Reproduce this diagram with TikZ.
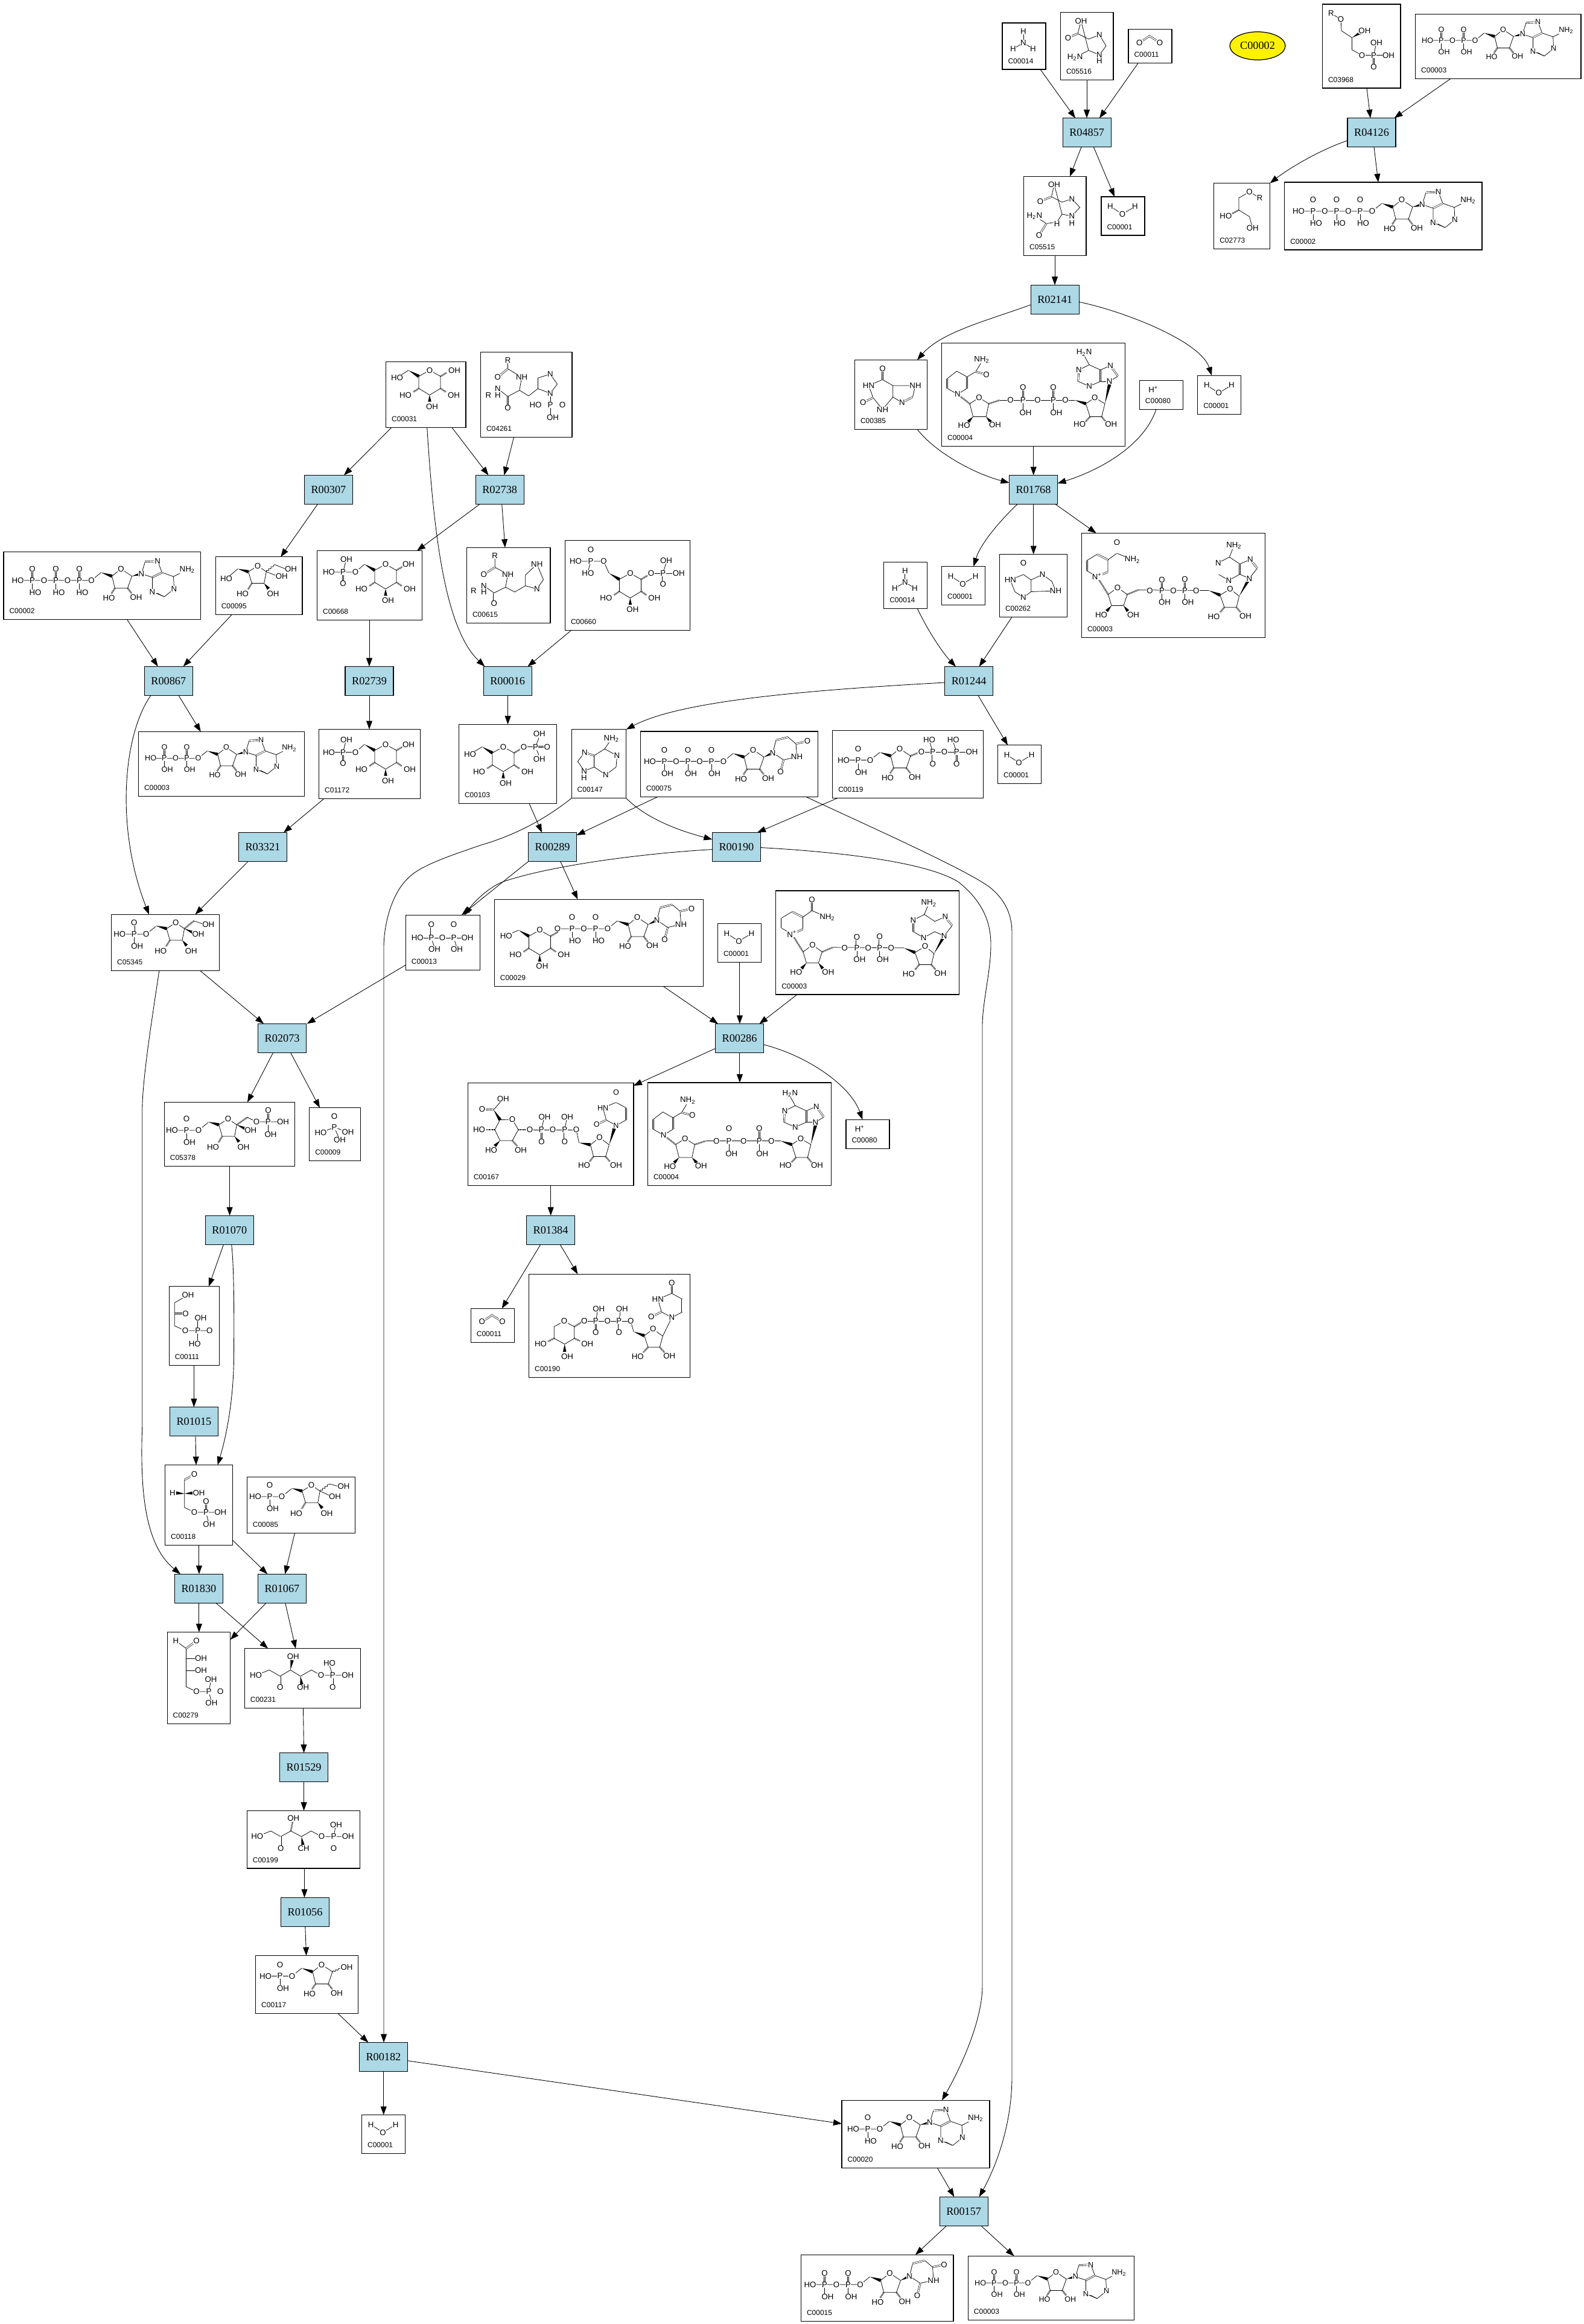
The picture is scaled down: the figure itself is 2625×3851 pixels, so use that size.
\documentclass[tikz,border=0pt]{standalone}
\usepackage{fontspec}
\setmainfont{Liberation Serif}
\setsansfont{Liberation Sans}
\usetikzlibrary{arrows.meta,calc,decorations.pathmorphing,shapes.geometric}
\definecolor{rxnblue}{HTML}{ADD8E6}

% compound box: name, x1, y1, x2, y2, id
\newcommand{\cpd}[6]{\node[cpd,minimum width={(#4-#2)*0.4pt},minimum height={(#5-#3)*0.4pt}] (#1) at ({(#2+#4)/2},{(#3+#5)/2}) {};
\node[cpdid] (#1id) at (#2+9,#5-14) {#6};}
\newcommand{\atoms}[1]{\foreach \px/\py/\tx in {#1}{\node[atm] (atm-\px-\py) at (\px,\py) {\tx};}}
\newcommand{\wdg}[4]{\fill (#1,#2) -- ($(#3,#4)!1.1pt!90:(#1,#2)$) -- ($(#3,#4)!1.1pt!-90:(#1,#2)$) -- cycle;}
\newcommand{\hsh}[4]{\draw[hash] (#1,#2) -- (#3,#4);}

% sugar rings, ring O at the origin
\newcommand{\ribring}{\draw[bond] (0,0)--(18,12)--(11,32)--(-10,32)--(-15,12)--cycle;
\wdg{-33}{6}{-15}{12} \hsh{-10}{32}{-16}{41} \hsh{11}{32}{18}{41}
\atoms{0/0/O,-20/48/HO,25/47/OH}}
\newcommand{\frring}{\draw[bond] (0,0)--(14.3,9.8)--(10.7,29)--(-9.7,29)--(-15.3,9.8)--cycle;
\wdg{-33}{5}{-15.3}{9.8} \hsh{-9.7}{29}{-16}{39} \wdg{10.7}{29}{18}{38}
\atoms{0/0/O,-25/46.5/HO,25.5/46.5/OH}}
\newcommand{\pyr}{\draw[bond] (0,0)--(18,10)--(18,30)--(0,41)--(-18,30)--(-18,10)--cycle;
\hsh{18}{30}{27}{36} \wdg{0}{41}{0}{52} \hsh{-18}{30}{-27}{36} \wdg{-35}{0}{-18}{10}
\atoms{0/0/O,-40/41/HO,40/41/OH,4/60/OH}}
% phosphate chain on the left of a ribose: count, lower text, end text
\newcommand{\chain}[3]{\pgfmathsetmacro\pend{-69-39*(#1-1)}
\draw[bond] (-33,6)--(-49,19)--(\pend-24,19);
\atoms{-49/19/O}
\foreach \i in {1,...,#1}{\pgfmathsetmacro\pp{-69-39*(\i-1)}
\draw[dbl] (\pp,19)--(\pp,0);
\draw[bond] (\pp,19)--(\pp,34);
\node[atm] (atm-p\i) at (\pp,19) {P};
\node[atm] (atm-o\i) at (\pp,0) {O};
\node[atm] (atm-h\i) at (\pp+5,39) {#2};}
\foreach \i in {2,...,#1}{\ifnum\i>1 \pgfmathsetmacro\pp{-69-39*(\i-1)+19.5}
\node[atm] (atm-b\i) at (\pp,19) {O};\fi}
\node[atm] (atm-e) at (\pend-24,19) {#3};}
\newcommand{\adenosine}{\ribring \wdg{18}{12}{34}{8}
\draw[bond] (34,8)--(40,-12); \draw[dbl] (40,-12)--(60.7,-13);
\draw[bond] (60.7,-13)--(68,6)--(52,14)--(34,8);
\draw[bond] (68,6)--(87,12.7)--(88,33); \draw[dbl] (68,6)--(52,14);
\draw[bond] (88,33)--(72,46)--(52,38)--(52,14); \draw[bond] (87,12.7)--(110,1);
\draw[bond] (71,46)--(60,40);
\atoms{34/8/N,60.7/-13/N,88/33/N,52/38/N,110/1/NH\textsubscript{2}}}
\newcommand{\uridine}{\ribring \wdg{18}{12}{32.7}{5}
\draw[bond] (32.7,5)--(50.6,16.7)--(72.5,11.7)--(71,-10)--(58,-21); \draw[bond] (38,-16)--(32.7,5);
\draw[dbl] (58,-21)--(38,-16); \draw[dbl] (50.6,16.7)--(45.4,36.7); \draw[dbl] (71,-10)--(90,-14.3);
\atoms{32.7/5/N,45.4/36.7/O,72.5/11.7/NH,90/-14.3/O}}
% uracil with N1 at the origin, N1 pointing down
\newcommand{\uraup}{\draw[bond] (0,0)--(-17,-9.3)--(-23,-30.6)--(0,-40)--(17.4,-30.6);
\draw[dbl] (17.4,-30.6)--(17.4,-9.3); \draw[bond] (17.4,-9.3)--(0,0);
\draw[dbl] (-17,-9.3)--(-34,-1.6); \draw[dbl] (0,-40)--(0,-57.3);
\atoms{0/0/N,-34/-1.6/O,-23/-30.6/HN,0/-57.3/O}}
\newcommand{\nadox}{\draw[bond] (0,0)--(16,11.5)--(10,30)--(-10,30)--(-15.5,11.5)--cycle;
\hsh{-15.5}{11.5}{-34}{-18} \wdg{-10}{30}{-18}{39} \wdg{10}{30}{17}{39}
\draw[bond] (-34,-18)--(-16,-26)--(-16,-46)--(-34,-55)--(-50.5,-45)--(-50.5,-27.5)--cycle;
\draw[dbl] (-16,-46)--(-34,-55); \draw[dbl] (-50.5,-45)--(-50.5,-27.5); \draw[dbl] (-34,-18)--(-16,-26);
\draw[bond] (-16,-46)--(-1,-56.8)--(24.7,-46); \draw[dbl] (-1,-56.8)--(-1,-75);
\hsh{16}{11.5}{34}{4} \draw[bond] (34,4)--(151.5,5);
\draw[dbl] (73.5,5)--(73.5,-13); \draw[dbl] (111.4,5)--(111.4,-14);
\draw[bond] (73.5,5)--(73.5,20); \draw[bond] (111.4,5)--(111.4,20);
\wdg{151.5}{5}{170}{12.6}
\draw[bond] (186.6,2.3)--(201.5,14.4)--(197,32.7)--(177,32.7)--(170,12.6)--cycle;
\hsh{177}{32.7}{170}{41} \hsh{197}{32.7}{204}{41} \wdg{201.5}{14.4}{218.3}{-15}
\draw[bond] (218.3,-15)--(231.5,-32); \draw[dbl] (231.5,-32)--(220,-46.5);
\draw[bond] (220,-46.5)--(202.6,-39); \draw[dbl] (202.6,-39)--(202.6,-22); \draw[bond] (202.6,-22)--(218.3,-15);
\draw[bond] (202.6,-22)--(184.3,-12)--(167,-22); \draw[dbl] (167,-22)--(167,-41);
\draw[bond] (167,-41)--(185.4,-50.5)--(202.6,-39); \draw[bond] (185.4,-50.5)--(193,-69.5);
\atoms{0/0/O,-27/45/HO,26/45/OH,-34/-18/N\textsuperscript{+},-1/-75/O,24.7/-46/NH\textsubscript{2},
53.4/5/O,73.5/5/P,73.5/-13/O,78/24/OH,92.4/5/O,111.4/5/P,111.4/-14/O,116.5/24/OH,130.3/5/O,
186.6/2.3/O,159.5/48/HO,212/47/OH,218.3/-15/N,220/-46.5/N,184.3/-12/N,167/-41/N,193/-69.5/NH\textsubscript{2}}}
\newcommand{\nadred}{\draw[bond] (0,0)--(16,10)--(11.5,31.5)--(-10,31.5)--(-15.5,10)--cycle;
\hsh{-15.5}{10}{-35.6}{-5.7} \wdg{-10}{31.5}{-18}{40} \wdg{11.5}{31.5}{19}{40}
\draw[bond] (-35.6,-5.7)--(-20,-15.5)--(-20,-34.5)--(-37,-44)--(-53,-31.5)--(-53,-15.5)--cycle;
\draw[dbl] (-20,-15.5)--(-20,-34.5); \draw[dbl] (-53,-31.5)--(-53,-15.5);
\draw[bond] (-20,-34.5)--(-5.7,-43)--(4.6,-60); \draw[dbl] (-5.7,-43)--(12,-38.5);
\hsh{16}{10}{34.4}{4} \draw[bond] (34.4,4)--(158.5,4);
\draw[dbl] (72.7,4)--(72.7,-17); \draw[dbl] (123,4)--(123,-17);
\draw[bond] (72.7,4)--(72.7,20); \draw[bond] (123,4)--(123,20);
\wdg{158.5}{4}{176.8}{10}
\draw[bond] (191.7,0)--(208.4,10)--(203,31.5)--(183.7,31.5)--(176.8,10)--cycle;
\hsh{183.7}{31.5}{176}{40} \hsh{203}{31.5}{210}{40} \wdg{208.4}{10}{216}{-22}
\draw[bond] (216,-27)--(230,-35.6); \draw[dbl] (230,-35.6)--(217.5,-53);
\draw[bond] (217.5,-53)--(201,-46); \draw[dbl] (201,-46)--(201,-27); \draw[bond] (201,-27)--(216,-27);
\draw[bond] (201,-27)--(182.5,-19)--(164,-27); \draw[dbl] (164,-27)--(165.3,-46);
\draw[bond] (165.3,-46)--(182.5,-54.5)--(201,-46); \draw[bond] (182.5,-54.5)--(174,-70);
\atoms{0/0/O,-25/46/HO,26.4/45/OH,-35.6/-5.7/N,12/-38.5/O,4.6/-63/NH\textsubscript{2},
52/4/O,72.7/4/P,72.7/-17/O,77/25/OH,97/4/O,123/4/P,123/-17/O,128/25/OH,143/4/O,
191.7/0/O,166.5/44/HO,218.7/44/OH,216/-27/N,217.5/-53/N,182.5/-19/N,165.3/-46/N,174/-74.6/H\textsubscript{2}N}}
% small ones, from the top left corner of their box
\newcommand{\water}[3]{\cpd{#1}{#2}{#3}{#2+72}{#3+64}{C00001}
\begin{scope}[shift={(#2,#3)}]\draw[bond] (15,16)--(35,29)--(56,16); \atoms{15/16/H,35/29/O,56/16/H}\end{scope}}
\newcommand{\ammonia}[3]{\cpd{#1}{#2}{#3}{#2+72}{#3+77}{C00014}
\begin{scope}[shift={(#2,#3)}]\draw[bond] (35,14)--(35,33); \draw[bond] (18,43)--(35,33)--(51,43); \atoms{35/14/H,35/33/N,18/43/H,51/43/H}\end{scope}}
\newcommand{\carbdiox}[3]{\cpd{#1}{#2}{#3}{#2+72}{#3+56}{C00011}
\begin{scope}[shift={(#2,#3)}]\draw[dbl] (18.3,22)--(35,11)--(52,22); \atoms{18.3/22/O,52/22/O}\end{scope}}
\newcommand{\proton}[3]{\cpd{#1}{#2}{#3}{#2+72}{#3+48}{C00080}
\begin{scope}[shift={(#2,#3)}]\atoms{23/15/H\textsuperscript{+}}\end{scope}}

\begin{document}
\begin{tikzpicture}[x=0.4pt,y=-0.4pt,>={Triangle[length=5.6pt,width=4pt]}]
\tikzstyle{cpd}=[draw,fill=white,rectangle,inner sep=0pt,outer sep=0pt,line width=0.5pt]
\tikzstyle{cpdid}=[anchor=west,inner sep=0pt,font=\sffamily\fontsize{4.8}{5.5}\selectfont]
\tikzstyle{rxn}=[draw,fill=rxnblue,rectangle,inner sep=0pt,outer sep=0pt,line width=0.5pt,minimum width=32pt,minimum height=19.2pt,font=\rmfamily\fontsize{7.3}{8}\selectfont]
\tikzstyle{atm}=[fill=white,inner sep=0.15pt,font=\sffamily\fontsize{5.3}{6}\selectfont]
\tikzstyle{bond}=[line width=0.3pt]
\tikzstyle{dbl}=[line width=0.25pt,double,double distance=0.65pt]
\tikzstyle{hash}=[line width=1.1pt,dash pattern=on 0.25pt off 0.4pt]
\tikzstyle{wavy}=[line width=0.3pt,decorate,decoration={snake,amplitude=0.5pt,segment length=2pt}]
\tikzstyle{flow}=[->,line width=0.35pt]
\useasboundingbox (0,0) rectangle (2625,3851);

% reactions
\node[rxn] (R04857) at (1801.2,219.7) {R04857};
\node[rxn] (R04126) at (2273,219.7) {R04126};
\node[rxn] (R02141) at (1748.2,496.4) {R02141};
\node[rxn] (R01768) at (1712.5,811.5) {R01768};
\node[rxn] (R01244) at (1605.7,1128.6) {R01244};
\node[rxn] (R00307) at (544.4,811.5) {R00307};
\node[rxn] (R02738) at (828.2,811.5) {R02738};
\node[rxn] (R00867) at (279.3,1128.4) {R00867};
\node[rxn] (R02739) at (612,1128.4) {R02739};
\node[rxn] (R00016) at (841.2,1128.4) {R00016};
\node[rxn] (R00289) at (915.6,1403.5) {R00289};
\node[rxn] (R00190) at (1220.4,1403.5) {R00190};
\node[rxn] (R03321) at (435.4,1403.6) {R03321};
\node[rxn] (R02073) at (467.6,1720.4) {R02073};
\node[rxn] (R00286) at (1225.5,1720.5) {R00286};
\node[rxn] (R01070) at (380.3,2038.3) {R01070};
\node[rxn] (R01384) at (912.5,2038.3) {R01384};
\node[rxn] (R01015) at (321.4,2355.6) {R01015};
\node[rxn] (R01830) at (329.4,2632.3) {R01830};
\node[rxn] (R01067) at (467.4,2632.3) {R01067};
\node[rxn] (R01529) at (503.6,2928.6) {R01529};
\node[rxn] (R01056) at (505.5,3168.5) {R01056};
\node[rxn] (R00182) at (635.4,3408.5) {R00182};
\node[rxn] (R00157) at (1597.2,3664.3) {R00157};

% the lone one
\node[draw,ellipse,fill=yellow,line width=0.5pt,inner sep=0pt,minimum width=36.8pt,minimum height=18.6pt,font=\rmfamily\fontsize{7.3}{8}\selectfont] (C00002top) at (2084,76) {C00002};

% small compounds
\water{c00001a}{1825}{326}
\water{c00001b}{1984.8}{622.3}
\water{c00001c}{1560.6}{938.6}
\water{c00001d}{1653.6}{1234.8}
\water{c00001e}{1189.5}{1530.7}
\water{c00001f}{599.6}{3504.5}
\ammonia{c00014a}{1661}{38}
\ammonia{c00014b}{1464.8}{931.7}
\carbdiox{c00011a}{1870}{48.7}
\carbdiox{c00011b}{780.4}{2168.3}
\proton{c00080a}{1888.4}{630.4}
\proton{c00080b}{1402}{1855.4}

% nucleotides
\cpd{c00002b}{2128.8}{302}{2456}{414}{C00002}
\begin{scope}[shift={(2323,331)}]\adenosine \chain{3}{HO}{HO}\end{scope}
\cpd{c00002c}{6}{914.6}{332.8}{1026.3}{C00002}
\begin{scope}[shift={(200.5,942.7)}]\adenosine \chain{3}{HO}{HO}\end{scope}
\cpd{c00003a}{2345.7}{23.7}{2620}{130.4}{C00003}
\begin{scope}[shift={(2491,49)},scale=0.95,transform shape]\adenosine \chain{2}{OH}{HO}\end{scope}
\cpd{c00003c}{229.5}{1212.6}{504.2}{1319.7}{C00003}
\begin{scope}[shift={(375,1238.6)},scale=0.95,transform shape]\adenosine \chain{2}{OH}{HO}\end{scope}
\cpd{c00003e}{1604.4}{3738.3}{1879.3}{3844.3}{C00003}
\begin{scope}[shift={(1750,3765)},scale=0.95,transform shape]\adenosine \chain{2}{OH}{HO}\end{scope}
\cpd{c00020}{1395}{3480.3}{1640}{3592.3}{C00020}
\begin{scope}[shift={(1507,3509)}]\adenosine \chain{1}{HO}{HO}\end{scope}
\cpd{c00015}{1327.5}{3736.3}{1580}{3846.3}{C00015}
\begin{scope}[shift={(1474.5,3766.7)}]\uridine \chain{2}{OH}{HO}\end{scope}
\cpd{c00075}{1061.4}{1211.9}{1355.4}{1320.3}{C00075}
\begin{scope}[shift={(1248,1242.5)}]\uridine \chain{3}{OH}{HO}\end{scope}
\cpd{c00004a}{1560.6}{568.4}{1864.3}{739.4}{C00004}
\begin{scope}[shift={(1622.6,659)}]\nadred\end{scope}
\cpd{c00004b}{1073.5}{1794}{1377.7}{1964.4}{C00004}
\begin{scope}[shift={(1135.3,1886.6)}]\nadred\end{scope}
\cpd{c00003b}{1792.5}{883.5}{2096.8}{1056.3}{C00003}
\begin{scope}[shift={(1852,973.6)}]\nadox\end{scope}
\cpd{c00003d}{1285.8}{1475.9}{1589.4}{1648}{C00003}
\begin{scope}[shift={(1346.4,1565.8)}]\nadox\end{scope}
\cpd{c00119}{1379.8}{1210.7}{1629.5}{1322.5}{C00119}
\begin{scope}[shift={(1491,1240.6)}]\ribring \chain{1}{OH}{HO}
\hsh{18}{12}{30}{7} \draw[bond] (36,5.7)--(119.6,5.7);
\draw[bond] (54.7,5.7)--(50,-10); \draw[bond] (94.3,5.7)--(89,-10);
\draw[dbl] (54.7,5.7)--(54.7,25); \draw[dbl] (94.3,5.7)--(94.3,25);
\atoms{36/5.7/O,54.7/5.7/P,49/-15/HO,54.7/25/O,74/5.7/O,94.3/5.7/P,88.7/-15/HO,94.3/25/O,119.6/5.7/OH}\end{scope}

% sugars
\cpd{c00031}{639.6}{599.3}{772}{708.5}{C00031}
\begin{scope}[shift={(712,613.6)}]\pyr \draw[bond] (-35,0)--(-54,12); \hsh{18}{10}{28}{4} \atoms{-54/12/HO,41/0/OH}\end{scope}
\cpd{c00103}{760.5}{1200.3}{922.7}{1331.4}{C00103}
\begin{scope}[shift={(834,1237.6)}]\pyr \draw[bond] (-35,0)--(-55,12); \hsh{18}{10}{28}{4}
\draw[bond] (34,0)--(60,0); \draw[bond] (53.5,0)--(59,-15); \draw[bond] (53.5,0)--(59,14); \draw[dbl] (53.5,0)--(72.7,0);
\atoms{-55/12/HO,34/0/O,53.5/0/P,59.7/-22/OH,59.7/20/OH,72.7/0/O}\end{scope}
\cpd{c00668}{525.6}{912.6}{699.3}{1027.3}{C00668}
\cpd{c01172}{528.7}{1208.5}{696.3}{1323.3}{C01172}
\foreach \sx/\sy in {639/935,639/1233.5}{
\begin{scope}[shift={(\sx,\sy)}]\pyr \hsh{18}{10}{28}{4}
\draw[bond] (-35,0)--(-50,13)--(-94,13); \draw[bond] (-70.5,13)--(-66,-5); \draw[dbl] (-70.5,13)--(-70.5,31.6);
\atoms{-50/13/O,-70.5/13/P,-65/-8/OH,-70.5/31.6/O,-94/13/HO,38/0/OH}\end{scope}}
\cpd{c00660}{936.5}{895.7}{1143.8}{1044.7}{C00660}
\begin{scope}[shift={(1044.4,950)}]\pyr \hsh{18}{10}{30}{3}
\draw[bond] (-35,0)--(-44,-20)--(-90,-20); \draw[bond] (-65.4,-20)--(-70,-3); \draw[dbl] (-65.4,-20)--(-65.4,-39.5);
\draw[bond] (34.6,0)--(80,0); \draw[bond] (54.3,0)--(59.7,-18); \draw[dbl] (54.3,0)--(54.3,18);
\atoms{-44/-20/O,-65.4/-20/P,-65.4/-39.5/O,-90.4/-20/HO,-70/0/HO,34.6/0/O,54.3/0/P,59.7/-21/OH,80.3/0/OH,54.3/18/O}\end{scope}
\cpd{c00029}{819.4}{1490.3}{1165.3}{1634.7}{C00029}
\begin{scope}[shift={(1056,1520)}]\uridine \chain{2}{HO}{O}\end{scope}
\begin{scope}[shift={(894.4,1541.3)}]\pyr \draw[bond] (-35,0)--(-55.6,9.2); \hsh{18}{10}{30}{3} \atoms{-55.6/9.2/HO}\end{scope}
\cpd{c00167}{775.5}{1794.4}{1049.9}{1964.3}{C00167}
\draw[bond] (849,1855)--(859,1872)--(849,1890)--(828.6,1890)--(820,1872)--(828.6,1855.6)--cycle;
\wdg{818}{1838.8}{828.6}{1855.6} \hsh{820}{1872}{806}{1872} \wdg{828.6}{1890}{820}{1899} \hsh{849}{1890}{857}{1899} \hsh{859}{1872}{872}{1872}
\draw[dbl] (818,1838.8)--(799,1838); \draw[bond] (818,1838.8)--(833.7,1821);
\draw[bond] (878,1872)--(955,1872); \draw[bond] (897.4,1872)--(901,1855); \draw[bond] (935.7,1872)--(939,1855);
\draw[dbl] (897.4,1872)--(897.4,1892); \draw[dbl] (935.7,1872)--(935.7,1892);
\draw[bond] (955,1872)--(959.5,1893.5); \wdg{959.5}{1893.5}{978.5}{1897}
\draw[bond] (993.4,1885)--(1009.5,1897)--(1003.7,1916.5)--(983.6,1916.5)--(978.5,1897)--cycle;
\hsh{983.6}{1916.5}{977}{1925} \hsh{1003.7}{1916.5}{1011}{1925} \wdg{1009.5}{1897}{1018}{1870}
\atoms{849/1855/O,799/1838/O,833.7/1821/OH,794/1872/HO,814/1906/HO,863/1906/OH,878/1872/O,897.4/1872/P,902.5/1851/OH,897.4/1892/O,916/1872/O,935.7/1872/P,940/1851/OH,935.7/1892/O,955/1872/O,993.4/1885/O,968/1931/HO,1021/1931/OH}
\begin{scope}[shift={(1021,1864.8)},scale=0.95,transform shape]\uraup\end{scope}
\cpd{c00190}{876.7}{2111.3}{1143.3}{2282.3}{C00190}
\draw[bond] (935,2189.3)--(951.7,2198.3)--(951.7,2217.7)--(935.7,2227.3)--(918.3,2217.7)--(918.3,2198.3)--cycle;
\hsh{951.7}{2198.3}{964}{2191} \hsh{951.7}{2217.7}{961}{2222} \wdg{935.7}{2227.3}{935.7}{2240} \hsh{918.3}{2217.7}{908}{2223}
\draw[bond] (968.3,2189.3)--(1045.3,2189.3); \draw[bond] (987.3,2189.3)--(990,2174); \draw[bond] (1025.7,2189.3)--(1028,2174);
\draw[dbl] (987.3,2189.3)--(987.3,2208.3); \draw[dbl] (1025.7,2189.3)--(1025.7,2208.3);
\draw[bond] (1045.3,2189.3)--(1050,2206.7); \wdg{1050}{2206.7}{1067.7}{2213.3}
\draw[bond] (1082.3,2202.3)--(1098.3,2214)--(1093.3,2232.3)--(1074,2232.3)--(1067.7,2213.3)--cycle;
\hsh{1074}{2232.3}{1066}{2241} \hsh{1093.3}{2232.3}{1101}{2241} \draw[bond] (1098.3,2214)--(1113.3,2183.3);
\atoms{935/2189.3/O,896/2227.3/HO,973.3/2227.3/OH,940/2248.3/OH,968.3/2189.3/O,987.3/2189.3/P,992.3/2169/OH,987.3/2208.3/O,1006.7/2189.3/O,1025.7/2189.3/P,1030.7/2169/OH,1025.7/2208.3/O,1045.3/2189.3/O,1082.3/2202.3/O,1056.7/2248.3/HO,1109.3/2246.7/OH}
\begin{scope}[shift={(1113.3,2183.3)}]\uraup\end{scope}

% fructose and ribose phosphates
\cpd{c05345}{184.7}{1515.3}{363.3}{1608.7}{C05345}
\begin{scope}[shift={(291.3,1529)}]\frring \chain{1}{OH}{HO}
\hsh{14.3}{9.8}{30}{-3} \wdg{14.3}{9.8}{30}{17} \draw[bond] (30,-3)--(45,2) ; \atoms{54/2.6/OH,37.3/19/OH}\end{scope}
\cpd{c05378}{272.4}{1826.5}{488.3}{1932.7}{C05378}
\begin{scope}[shift={(378,1854)}]\frring \chain{1}{OH}{HO}
\hsh{14.3}{9.8}{32}{-2.5} \wdg{14.3}{9.8}{30}{17}
\draw[bond] (32,-2.5)--(47,5)--(91,5); \draw[bond] (66.4,5)--(66.4,22); \draw[dbl] (66.4,5)--(66.4,-14);
\atoms{47/5/O,66.4/5/P,66.4/-14/O,91/5/OH,70.5/25.6/OH,37.3/19/OH}\end{scope}
\cpd{c00085}{409.4}{2447.4}{588.4}{2540.3}{C00085}
\begin{scope}[shift={(516,2461)}]\frring \chain{1}{OH}{HO}
\draw[wavy] (14.3,9.8)--(30,-2); \draw[bond] (30,-2)--(45,2); \draw[bond] (14.3,9.8)--(30,17); \atoms{53.6/2/OH,39/19/OH}\end{scope}
\cpd{c00095}{357.3}{922.8}{501}{1018.7}{C00095}
\begin{scope}[shift={(427,937.6)}]\frring \draw[bond] (-33,5)--(-52,21.4);
\draw[wavy] (14.3,9.8)--(28,-2); \draw[bond] (28,-2)--(46,5); \draw[bond] (14.3,9.8)--(30,16); \atoms{-52/21.4/HO,55/5/OH,39.7/17.8/OH}\end{scope}
\cpd{c00117}{423.7}{3240.6}{593.8}{3336.6}{C00117}
\begin{scope}[shift={(533,3255.4)}]\ribring \chain{1}{OH}{HO} \draw[wavy] (18,12)--(32,6); \atoms{41.5/4.4/OH}\end{scope}

% one offs, at their own coordinates
\cpd{c05516}{1757.5}{20.5}{1845}{132.6}{C05516}
\draw[bond] (1791.5,34.8)--(1786,55.8)--(1804,64.7)--(1822,58)--(1833,76)--(1822,91)--(1804,83.5)--cycle;
\draw[dbl] (1786,55.8)--(1770,62.5); \draw[bond] (1804,83.5)--(1781.7,95);
\atoms{1791.5/34.8/OH,1770/62.5/O,1822/58/N,1822/90.5/N,1822/101/H,1781.7/95/H\textsubscript{2}N}
\cpd{c05515}{1696.7}{292.4}{1800}{423.7}{C05515}
\draw[bond] (1747,305.8)--(1742.5,326)--(1760,335)--(1776.5,329.5)--(1789.5,343.7)--(1776.5,358)--(1760,355)--cycle;
\draw[dbl] (1742.5,326)--(1724,333.5); \draw[bond] (1760,355)--(1751.6,368)--(1734,370.5)--(1714.4,358); \draw[dbl] (1734,370.5)--(1722,390);
\atoms{1747/305.8/OH,1724/333.5/O,1776.5/329.5/N,1776.5/358/N,1776.5/370/H,1751.6/371/H,1722/390/O,1714.4/358/H\textsubscript{2}N}
\cpd{c03968}{2191.5}{7}{2321}{146}{C03968}
\draw[bond] (2206,22.3)--(2222,32)--(2223,51)--(2240.5,62.5)--(2240.5,82.6)--(2257,91.5)--(2301,91.5); \wdg{2240.5}{62.5}{2256}{53}
\draw[bond] (2276.5,91.5)--(2280,75); \draw[dbl] (2276.5,91.5)--(2276.5,110.7);
\atoms{2206/22.3/R,2222/32/O,2261.4/51.3/OH,2257/91.5/O,2276.5/91.5/P,2281/71.4/OH,2301/91.5/OH,2276.5/110.7/O}
\cpd{c02773}{2011.8}{303.6}{2104.6}{412.5}{C02773}
\draw[bond] (2087.6,328)--(2070.6,318)--(2053,328)--(2053,348)--(2070.6,359)--(2075.8,378); \hsh{2053}{348}{2038}{356}
\atoms{2070.6/318/O,2087.6/328/R,2031.4/358/HO,2075.8/378/OH}
\cpd{c00385}{1416.5}{596.5}{1536.5}{711.3}{C00385}
\draw[bond] (1462.5,629)--(1439.5,639)--(1447,659)--(1462.5,678.6)--(1479.7,658)--(1479.7,639)--(1462.5,629);
\draw[dbl] (1462.5,629)--(1462.5,611); \draw[dbl] (1447,659)--(1430.3,667);
\draw[bond] (1479.7,639)--(1517,639)--(1512.4,658); \draw[dbl] (1512.4,658)--(1495,667); \draw[bond] (1495,667)--(1479.7,658);
\atoms{1462.5/611/O,1439.5/639/HN,1430.3/667/O,1462.5/678.6/NH,1517/639/NH,1495/667/N}
\cpd{c00262}{1656.5}{918.5}{1768.4}{1022.4}{C00262}
\draw[bond] (1696,952)--(1674.3,961)--(1681.7,980.5)--(1696,990)--(1708.7,980.5)--(1708.7,961)--(1696,952);
\draw[dbl] (1696,952)--(1696,933); \draw[bond] (1708.7,961)--(1727.7,952)--(1743,963.3)--(1749.5,979)--(1708.7,980.5);
\atoms{1696/933/O,1674.3/961/HN,1696/990/N,1727.7/952/N,1749.5/979/NH}
\cpd{c00147}{947.2}{1208.7}{1037.8}{1322.8}{C00147}
\draw[bond] (1002,1241)--(1013.5,1224); \draw[bond] (1002,1241)--(1022.4,1252)--(1021,1271)--(1004,1284)--(984.8,1271)--(984.8,1252)--(1002,1241);
\draw[dbl] (984.8,1252)--(968.9,1247); \draw[bond] (968.9,1247)--(957.4,1261.6)--(968.2,1277.6)--(984.8,1271); \draw[bond] (984.8,1252)--(984.8,1271);
\atoms{1013.5/1224/NH\textsubscript{2},1022.4/1252/N,1004/1284/N,968.9/1247/N,968.2/1277.6/N,968/1289/H}
\cpd{c04261}{796.5}{583.5}{948}{724.3}{C04261}
\draw[bond] (841.6,596.7)--(841.6,611)--(864.6,625.3)--(860.8,646.7)--(841.6,657)--(824.8,644); \draw[dbl] (841.6,611)--(824.8,625.3); \draw[dbl] (841.6,657)--(841.6,675.8);
\draw[bond] (860.8,646.7)--(876,656)--(891.4,644)--(891.4,626.3)--(912,620)--(923.5,636.5)--(912,651.8)--(891.4,644); \draw[bond] (912,651.8)--(912,691);
\atoms{841.6/596.7/R,824.8/625.3/O,864.6/625.3/NH,824.8/644/N,824.8/655.4/H,809.5/655.4/R,841.6/675.8/O,912/620/N,912/651.8/N,912/671.2/P,887.5/671.2/HO,932/671.2/O,916/691.6/OH}
\cpd{c00615}{773.5}{907.4}{912}{1032.4}{C00615}
\draw[bond] (820.2,921)--(820.2,940)--(841.6,951.8)--(837.8,973)--(818.7,982.5)--(801.8,970.7); \draw[dbl] (820.2,940)--(801.8,951.8); \draw[dbl] (818.7,982.5)--(818.7,999.8);
\draw[bond] (837.8,973)--(853,981)--(870.7,970.7)--(870.7,952.8)--(889.8,935)--(900.5,960.5)--(889.8,975.8)--(870.7,970.7);
\atoms{820.2/921/R,801.8/951.8/O,841.6/951.8/NH,801.8/970.7/N,801.8/981/H,785/979.4/R,818.7/999.8/O,889.8/935/NH,889.8/975.8/N}
\cpd{c00111}{280.4}{2131.6}{363.4}{2262.2}{C00111}
\draw[bond] (311.6,2146)--(289.3,2158.7)--(289.3,2197)--(307,2205)--(347,2205); \draw[dbl] (289.3,2176.5)--(307.6,2176.5); \draw[bond] (327.7,2184)--(327.7,2226);
\atoms{311.6/2146/OH,307.6/2176.5/O,307/2205/O,327.7/2205/P,332.6/2184/OH,347.3/2205/O,322.8/2226.5/HO}
\cpd{c00118}{273.7}{2427.6}{385.3}{2560.7}{C00118}
\draw[dbl] (321.9,2443.4)--(305.8,2452); \draw[bond] (305.8,2452)--(305.8,2498)--(322,2506)--(365,2506); \wdg{305.8}{2475}{292}{2474} \wdg{305.8}{2475}{320}{2474}
\draw[dbl] (341.5,2506)--(341.5,2487.8); \draw[bond] (341.5,2506)--(346.4,2526);
\atoms{321.9/2443.4/O,286/2474/H,329.5/2474/OH,322/2506/O,341.5/2506/P,341.5/2487.8/O,365.2/2506/OH,346.4/2526/OH}
\cpd{c00279}{277.2}{2704.6}{381.7}{2856.6}{C00279}
\draw[bond] (291.5,2719)--(308.5,2731.6)--(308.5,2795)--(325.4,2803)--(345,2803); \draw[dbl] (308.5,2731.6)--(325.4,2719); \draw[bond] (308.5,2748)--(333,2748); \draw[bond] (308.5,2768)--(333,2768);
\draw[bond] (346,2803)--(349.6,2785); \draw[dbl] (346,2803)--(365.2,2803); \draw[bond] (346,2803)--(350.4,2820);
\atoms{291.5/2719/H,325.4/2719/O,333/2748/OH,333/2767.9/OH,325.4/2803/O,346/2803/P,349.6/2782.6/OH,365.2/2803/O,350.4/2822/OH}
\cpd{c00231}{405.4}{2731.6}{597.3}{2830.6}{C00231}
\draw[bond] (424,2776)--(446.4,2767.3)--(464.3,2777.5)--(481.3,2767.3)--(497.8,2777.5)--(516,2767.3)--(532,2776)--(576,2776); \draw[dbl] (464.3,2777.5)--(464.3,2796);
\wdg{481.3}{2767.3}{484}{2751} \wdg{497.8}{2777.5}{500}{2791} \draw[bond] (551.3,2776)--(546,2760); \draw[dbl] (551.3,2776)--(551.3,2796);
\atoms{424/2776/HO,464.3/2796/O,485.7/2745.4/OH,502.2/2796/OH,532/2776/O,551.3/2776/P,546/2755.6/HO,576.3/2776/OH,551.3/2796/O}
\cpd{c00199}{409.4}{3000.4}{596.4}{3096}{C00199}
\draw[bond] (426.3,3043.3)--(448.7,3034)--(465.2,3043.3)--(482,3034)--(499.6,3043.3)--(515.6,3034)--(533,3043.3)--(577,3043.3); \draw[dbl] (465.2,3043.3)--(465.2,3063.4);
\hsh{482}{3034}{485}{3018} \wdg{499.6}{3043.3}{502}{3057} \draw[bond] (553,3043.3)--(556,3027); \draw[dbl] (553,3043.3)--(553,3063.4);
\atoms{426.3/3043.3/HO,465.2/3063.4/O,486.2/3013.4/OH,503.1/3063.4/CH,533/3043.3/O,553/3043.3/P,557/3023.7/OH,576.8/3043.3/OH,553/3063.4/O}
\cpd{c00009}{512.8}{1835.7}{597.4}{1923.5}{C00009}
\draw[dbl] (554,1868)--(554,1850); \draw[bond] (531.6,1877)--(554,1868)--(576.5,1876); \draw[bond] (554,1868)--(563,1889);
\atoms{554/1850/O,554/1868/P,531.6/1877/HO,576.5/1876/OH,563/1889/OH}
\cpd{c00013}{672.4}{1516.3}{795.4}{1607.7}{C00013}
\draw[bond] (691.8,1554)--(774.5,1554); \draw[dbl] (714.8,1554)--(714.8,1531.6); \draw[dbl] (752,1554)--(752,1531.6); \draw[bond] (714.8,1554)--(720,1570); \draw[bond] (752,1554)--(757,1570);
\atoms{714.8/1531.6/O,714.8/1554/P,691.8/1554/HO,720/1573/OH,733/1554/O,752/1554/P,752/1531.6/O,774.5/1554/OH,757/1573/OH}

% the straight connectors
\path[flow]
(1724,0 |- c00014a.south) edge (1782,0 |- R04857.north)
(1801,0 |- c05516.south) edge (1801,0 |- R04857.north)
(1886,0 |- c00011a.south) edge (1822,0 |- R04857.north)
(1792,0 |- R04857.south) edge (1773,0 |- c05515.north)
(1812.4,0 |- R04857.south) edge (1847,0 |- c00001a.north)
(2265,0 |- c03968.south) edge (2271,0 |- R04126.north)
(2404,0 |- c00003a.south) edge (2310.5,0 |- R04126.north)
(2277,0 |- R04126.south) edge (2284,0 |- c00002b.north)
(1748,0 |- c05515.south) edge (1748,0 |- R02141.north)
(1712.7,0 |- c00004a.south) edge (1712.7,0 |- R01768.north)
(1712.7,0 |- R01768.south) edge (1712.7,0 |- c00262.north)
(1749,0 |- R01768.south) edge (1816.7,0 |- c00003b.north)
(1677,0 |- c00262.south) edge (1622.6,0 |- R01244.north)
(1621,0 |- R01244.south) edge (1670,0 |- c00001d.north)
(648.8,0 |- c00031.south) edge (570,0 |- R00307.north)
(749,0 |- c00031.south) edge (809.5,0 |- R02738.north)
(851.6,0 |- c04261.south) edge (835.5,0 |- R02738.north)
(526.4,0 |- R00307.south) edge (465.2,0 |- c00095.north)
(795,0 |- R02738.south) edge (691,0 |- c00668.north)
(831.7,0 |- R02738.south) edge (837,0 |- c00615.north)
(946.4,0 |- c00660.south) edge (874.5,0 |- R00016.north)
(210.4,0 |- c00002c.south) edge (261.7,0 |- R00867.north)
(384,0 |- c00095.south) edge (303.7,0 |- R00867.north)
(612,0 |- c00668.south) edge (612,0 |- R02739.north)
(612,0 |- R02739.south) edge (612,0 |- c01172.north)
(841.6,0 |- R00016.south) edge (841.6,0 |- c00103.north)
(296,0 |- R00867.south) edge (332.8,0 |- c00003c.north)
(537,0 |- c01172.south) edge (470,0 |- R03321.north)
(411,0 |- R03321.south) edge (323.5,0 |- c05345.north)
(877,0 |- c00103.south) edge (898,0 |- R00289.north)
(1090,0 |- c00075.south) edge (R00289.east |- 0,1384)
(1388,0 |- c00119.south) edge (1255,0 |- R00190.north)
(875.5,0 |- R00289.south) edge (765,0 |- c00013.north)
(928.7,0 |- R00289.south) edge (957.4,0 |- c00029.north)
(1099.6,0 |- c00029.south) edge (1190,0 |- R00286.north)
(1225.9,0 |- c00001e.south) edge (1225.9,0 |- R00286.north)
(1321,0 |- c00003d.south) edge (1258.4,0 |- R00286.north)
(R00286.west |- 0,1737.4) edge (c00167.east |- 0,1799)
(1225.9,0 |- R00286.south) edge (1225.9,0 |- c00004b.north)
(912.7,0 |- c00167.south) edge (912.7,0 |- R01384.north)
(895.7,0 |- R01384.south) edge (831.7,0 |- c00011b.north)
(928.3,0 |- R01384.south) edge (957.3,0 |- c00190.north)
(332,0 |- c05345.south) edge (437,0 |- R02073.north)
(c00013.west |- 0,1599) edge (508.7,0 |- R02073.north)
(452.6,0 |- R02073.south) edge (410,0 |- c05378.north)
(481.6,0 |- R02073.south) edge (530,0 |- c00009.north)
(380.6,0 |- c05378.south) edge (380.6,0 |- R01070.north)
(370.4,0 |- R01070.south) edge (346,0 |- c00111.north)
(321.4,0 |- c00111.south) edge (321.4,0 |- R01015.north)
(324,0 |- R01015.south) edge (325,0 |- c00118.north)
(329.9,0 |- c00118.south) edge (329.9,0 |- R01830.north)
(c00118.east |- 0,2552) edge (443.3,0 |- R01067.north)
(488.4,0 |- c00085.south) edge (472.3,0 |- R01067.north)
(329.9,0 |- R01830.south) edge (329.9,0 |- c00279.north)
(358,0 |- R01830.south) edge (444.2,0 |- c00231.north)
(441,0 |- R01067.south) edge (c00279.east |- 0,2717)
(472.8,0 |- R01067.south) edge (490,0 |- c00231.north)
(502.5,0 |- c00231.south) edge (503.6,0 |- R01529.north)
(503.6,0 |- R01529.south) edge (503.6,0 |- c00199.north)
(504.5,0 |- c00199.south) edge (504.5,0 |- R01056.north)
(505.8,0 |- R01056.south) edge (507.6,0 |- c00117.north)
(560.3,0 |- c00117.south) edge (610.3,0 |- R00182.north)
(635.7,0 |- R00182.south) edge (635.7,0 |- c00001f.north)
(R00182.east |- 0,3414.7) edge (c00020.west |- 0,3519)
(1553.4,0 |- c00020.south) edge (1581.3,0 |- R00157.north)
(1568.5,0 |- R00157.south) edge (1517,0 |- c00015.north)
(1625.9,0 |- R00157.south) edge (1680.5,0 |- c00003e.north);

% the curved ones
\draw[flow] (R04126.west |- 0,233) .. controls (2188,248) and (2136,279) .. (2104.6,0 |- c02773.north);
\draw[flow] (R02141.west |- 0,505) .. controls (1640,530) and (1560,550) .. (1520,0 |- c00385.north);
\draw[flow] (R02141.east |- 0,500.4) .. controls (1860,515) and (1990,565) .. (2008,0 |- c00001b.north);
\draw[flow] (1520,0 |- c00385.south) .. controls (1550,750) and (1615,785) .. (R01768.west |- 0,800);
\draw[flow] (1916,0 |- c00080a.south) .. controls (1895,740) and (1820,780) .. (R01768.east |- 0,801);
\draw[flow] (1686,0 |- R01768.south) .. controls (1660,860) and (1625,900) .. (1613.4,0 |- c00001c.north);
\draw[flow] (1520.4,0 |- c00014b.south) .. controls (1540,1050) and (1565,1085) .. (1584,0 |- R01244.north);
\draw[flow] (R01244.west |- 0,1131) .. controls (1350,1143) and (1130,1160) .. (1037.8,0 |- c00147.north);
\draw[flow] (1037.8,0 |- c00147.south) .. controls (1070,1355) and (1120,1375) .. (R00190.west |- 0,1391);
\draw[flow] (707.7,0 |- c00031.south) .. controls (718,870) and (735,1040) .. (803.4,0 |- R00016.north);
\draw[flow] (250,0 |- R00867.south) .. controls (205,1215) and (190,1370) .. (247,0 |- c05345.north);
\draw[flow] (947,0 |- c00147.south) .. controls (900,1360) and (850,1385) .. (798,1400) .. controls (740,1420) and (695,1435) .. (675.5,1456) .. controls (650,1480) and (636,1530) .. (636,1570) -- (636,0 |- R00182.north);
\draw[flow] (R00190.west |- 0,1407.6) .. controls (1080,1413) and (920,1432) .. (833.7,1461) .. controls (810,1470) and (785,1495) .. (770,0 |- c00013.north);
\draw[flow] (1335.6,0 |- c00075.south) .. controls (1420,1360) and (1600,1440) .. (1640,1470) .. controls (1665,1490) and (1677,1515) .. (1677,1545) -- (1677,3440) .. controls (1677,3530) and (1645,3600) .. (1622.7,0 |- R00157.north);
\draw[flow] (R00190.east |- 0,1404.5) .. controls (1400,1412) and (1540,1430) .. (1589,1462) .. controls (1630,1495) and (1642,1530) .. (1642,1565) .. controls (1642,1610) and (1628,1660) .. (1628,1700) -- (1628,3290) .. controls (1628,3350) and (1590,3430) .. (1561,0 |- c00020.north);
\draw[flow] (R00286.east |- 0,1731) .. controls (1340,1750) and (1410,1800) .. (1429.3,0 |- c00080b.north);
\draw[flow] (263.8,0 |- c05345.south) .. controls (250,1700) and (236,1790) .. (235.7,1840) -- (235.7,2365) .. controls (232,2470) and (240,2560) .. (299,0 |- R01830.north);
\draw[flow] (383.7,0 |- R01070.south) .. controls (388,2100) and (388,2180) .. (387.5,2250) .. controls (387,2320) and (375,2380) .. (360.7,0 |- c00118.north);
\end{tikzpicture}
\end{document}
